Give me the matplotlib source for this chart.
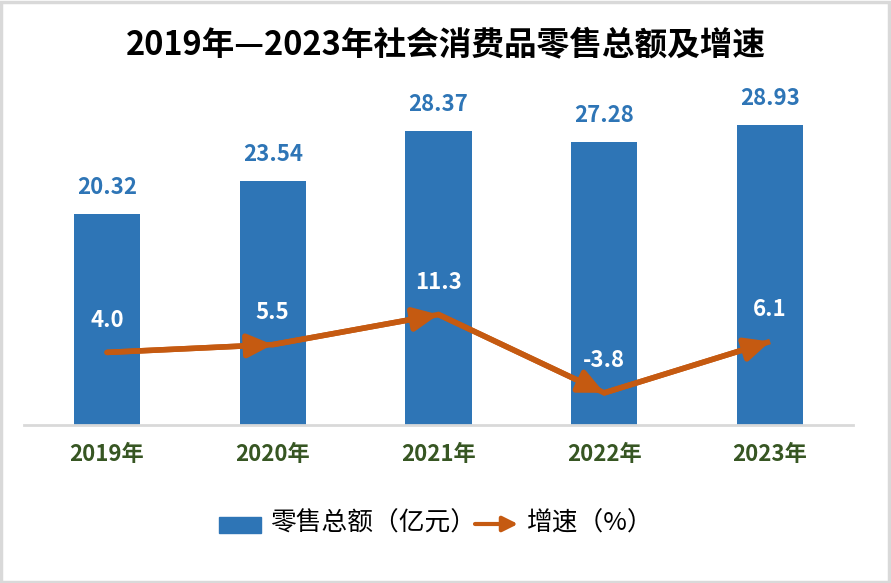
import numpy as np
import matplotlib.pyplot as plt
from matplotlib.patches import Rectangle

plt.rcParams['font.family'] = ['Noto Sans CJK SC', 'DejaVu Sans']

years = ['2019年', '2020年', '2021年', '2022年', '2023年']
sales = [20.32, 23.54, 28.37, 27.28, 28.93]
growth = [4.0, 5.5, 11.3, -3.8, 6.1]

bar_color = '#2E75B6'
line_color = '#C55A11'

W, H = 891, 583
fig = plt.figure(figsize=(W / 100, H / 100), dpi=100)
fig.patches.append(Rectangle((0.001, 0.002), 0.997, 0.995, transform=fig.transFigure,
                             fill=False, edgecolor='#D9D9D9', linewidth=2.5))

ax = fig.add_axes([24 / W, 1 - 425 / H, (853 - 24) / W, (425 - 62) / H])
x = np.arange(len(years))
bars = ax.bar(x, sales, width=0.4, color=bar_color, zorder=2)
ax.set_xlim(-0.5, len(years) - 0.5)
ax.set_ylim(0, 35)
ax.set_yticks([])
for s in ['top', 'right', 'left']:
    ax.spines[s].set_visible(False)
ax.spines['bottom'].set_color('#D9D9D9')
ax.spines['bottom'].set_linewidth(2)
ax.set_xticks(x)
ax.set_xticklabels(years, fontsize=16, fontweight='bold', color='#375623')
ax.tick_params(axis='x', length=0, pad=13)

for xi, v in zip(x, sales):
    ax.annotate(f'{v:.2f}', (xi, v), xytext=(0, 19), textcoords='offset points',
                ha='center', va='center', fontsize=16, fontweight='bold', color=bar_color)

ax2 = ax.twinx()
ax2.set_ylim(-10, 60)
ax2.set_yticks([])
for s in ['top', 'right', 'left', 'bottom']:
    ax2.spines[s].set_visible(False)

ax2.plot(x, growth, color=line_color, linewidth=4, solid_capstyle='butt', zorder=3)
for i in range(1, len(x)):
    ax2.annotate('', xy=(x[i], growth[i]), xytext=(x[i - 1], growth[i - 1]),
                 arrowprops=dict(arrowstyle='-|>,head_length=1.5,head_width=0.7',
                                 color=line_color, lw=4, shrinkA=0, shrinkB=0))
for xi, v in zip(x, growth):
    ax2.annotate(f'{v:.1f}', (xi, v), xytext=(0, 23), textcoords='offset points',
                 ha='center', va='center', fontsize=16, fontweight='bold', color='white')

fig.text(0.5, 1 - 45 / H, '2019年—2023年社会消费品零售总额及增速', ha='center', va='center',
         fontsize=23.5, fontweight='bold', color='black')

# legend
lx = fig.add_axes([0, 0, 1, 1], facecolor='none')
lx.set_xlim(0, W)
lx.set_ylim(H, 0)
lx.axis('off')
lx.add_patch(Rectangle((219, 517), 42, 16, color=bar_color))
lx.text(270, 524, '零售总额（亿元）', ha='left', va='center', fontsize=18.5,
        fontweight='medium', color='black')
lx.annotate('', xy=(518, 524), xytext=(475, 524),
            arrowprops=dict(arrowstyle='-|>,head_length=0.9,head_width=0.45',
                            color=line_color, lw=3, shrinkA=0, shrinkB=0))
lx.text(527, 524, '增速（%）', ha='left', va='center', fontsize=18.5,
        fontweight='medium', color='black')

fig.savefig('out.png', dpi=100)
